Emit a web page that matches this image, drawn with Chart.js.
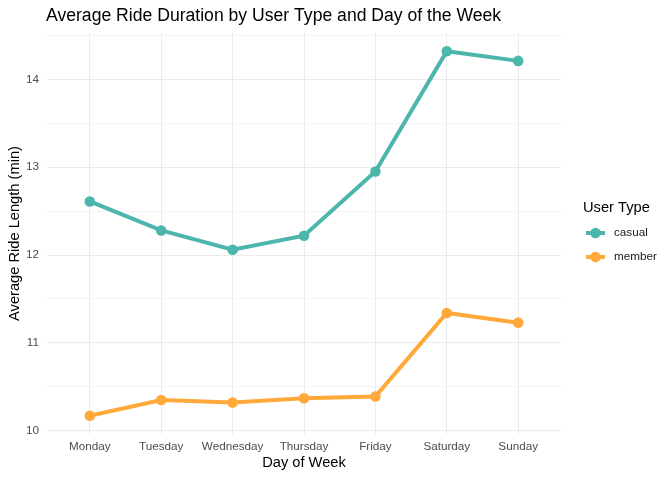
<!DOCTYPE html>
<html>
<head>
<meta charset="utf-8">
<title>Average Ride Duration</title>
<script src="https://cdn.jsdelivr.net/npm/chart.js@4.4.1/dist/chart.umd.min.js"></script>
<style>
    html, body { margin: 0; padding: 0; background: #fff; }
    #contenedor { width: 672px; height: 480px; position: relative; }
</style>
</head>
<body>
<div id="contenedor"><canvas id="grafica"></canvas></div>
<script>
// datos
const dias = ['Monday', 'Tuesday', 'Wednesday', 'Thursday', 'Friday', 'Saturday', 'Sunday'];
const casual = [12.61, 12.28, 12.06, 12.22, 12.95, 14.32, 14.21];
const member = [10.17, 10.35, 10.32, 10.37, 10.39, 11.34, 11.23];
const yTicks = [10, 10.5, 11, 11.5, 12, 12.5, 13, 13.5, 14, 14.5];

const FUENTE = "'Liberation Sans', Arial, sans-serif";
const COLOR_CASUAL = '#4DB6AC';
const COLOR_MEMBER = '#FFA93A';

document.addEventListener('DOMContentLoaded', () => {
    inicializarGrafica();
});

// titulo alineado con el panel (como ggplot)
const tituloPlugin = {
    id: 'tituloPanel',
    afterDraw(chart) {
        const ctx = chart.ctx;
        ctx.save();
        ctx.font = `17.6px ${FUENTE}`;
        ctx.fillStyle = '#000';
        ctx.textAlign = 'left';
        ctx.textBaseline = 'middle';
        ctx.fillText('Average Ride Duration by User Type and Day of the Week', chart.chartArea.left - 1, 16);
        ctx.restore();
    }
};

// leyenda a la derecha con linea + punto
const leyendaPlugin = {
    id: 'leyendaDerecha',
    afterDraw(chart) {
        const ctx = chart.ctx;
        const x0 = chart.chartArea.right + 22;
        ctx.save();
        ctx.font = `14.67px ${FUENTE}`;
        ctx.fillStyle = '#000';
        ctx.textAlign = 'left';
        ctx.textBaseline = 'middle';
        ctx.fillText('User Type', x0, 208);

        chart.data.datasets.forEach((ds, i) => {
            const y = 233 + i * 24;
            ctx.strokeStyle = ds.borderColor;
            ctx.lineWidth = 4;
            ctx.beginPath();
            ctx.moveTo(x0 + 3, y);
            ctx.lineTo(x0 + 22, y);
            ctx.stroke();
            ctx.fillStyle = ds.backgroundColor;
            ctx.beginPath();
            ctx.arc(x0 + 12.5, y, 5.3, 0, Math.PI * 2);
            ctx.fill();
            ctx.font = `11.7px ${FUENTE}`;
            ctx.fillStyle = '#1a1a1a';
            ctx.fillText(ds.label, x0 + 31, y);
        });
        ctx.restore();
    }
};

function inicializarGrafica() {
    const canvas = document.getElementById('grafica');
    if (!canvas) return;
    if (typeof Chart === 'undefined') {
        console.error('Chart.js no está disponible');
        return;
    }

    const serie = (valores) => valores.map((v, i) => ({ x: i, y: v }));

    new Chart(canvas, {
        type: 'line',
        data: {
            datasets: [{
                label: 'casual',
                data: serie(casual),
                borderColor: COLOR_CASUAL,
                backgroundColor: COLOR_CASUAL,
                borderWidth: 4,
                pointRadius: 5.3,
                pointHoverRadius: 5.3,
                pointBorderWidth: 0,
                tension: 0
            }, {
                label: 'member',
                data: serie(member),
                borderColor: COLOR_MEMBER,
                backgroundColor: COLOR_MEMBER,
                borderWidth: 4,
                pointRadius: 5.3,
                pointHoverRadius: 5.3,
                pointBorderWidth: 0,
                tension: 0
            }]
        },
        options: {
            responsive: true,
            maintainAspectRatio: false,
            animation: false,
            layout: { padding: { top: 33, right: 111, left: 0, bottom: 0 } },
            plugins: {
                legend: { display: false },
                title: { display: false },
                tooltip: { enabled: false }
            },
            scales: {
                x: {
                    type: 'linear',
                    min: -0.6,
                    max: dias.length - 0.4,
                    afterBuildTicks: (scale) => {
                        scale.ticks = dias.map((_, i) => ({ value: i }));
                    },
                    afterFit: (scale) => { scale.height = 46; },
                    border: { display: false },
                    grid: { color: '#ebebeb', lineWidth: 1, drawTicks: false },
                    ticks: {
                        autoSkip: false,
                        maxRotation: 0,
                        padding: 6,
                        color: '#4d4d4d',
                        font: { family: FUENTE, size: 11.7 },
                        callback: (v) => dias[v]
                    },
                    title: {
                        display: true,
                        text: 'Day of Week',
                        color: '#000',
                        font: { family: FUENTE, size: 14.67 },
                        padding: { top: 0, bottom: 8 }
                    }
                },
                y: {
                    type: 'linear',
                    min: 9.9625,
                    max: 14.5275,
                    afterBuildTicks: (scale) => {
                        scale.ticks = yTicks.map(v => ({ value: v }));
                    },
                    afterFit: (scale) => { scale.width = 47; },
                    border: { display: false },
                    grid: {
                        drawTicks: false,
                        color: (c) => (c.tick && c.tick.value % 1 === 0) ? '#ebebeb' : '#f4f4f4',
                        lineWidth: 1
                    },
                    ticks: {
                        padding: 8,
                        color: '#4d4d4d',
                        font: { family: FUENTE, size: 11.7 },
                        callback: (v) => (v % 1 === 0 ? v : '')
                    },
                    title: {
                        display: true,
                        text: 'Average Ride Length (min)',
                        color: '#000',
                        font: { family: FUENTE, size: 14.67 },
                        padding: { top: 6, bottom: 0 }
                    }
                }
            }
        },
        plugins: [tituloPlugin, leyendaPlugin]
    });
}
</script>
</body>
</html>
